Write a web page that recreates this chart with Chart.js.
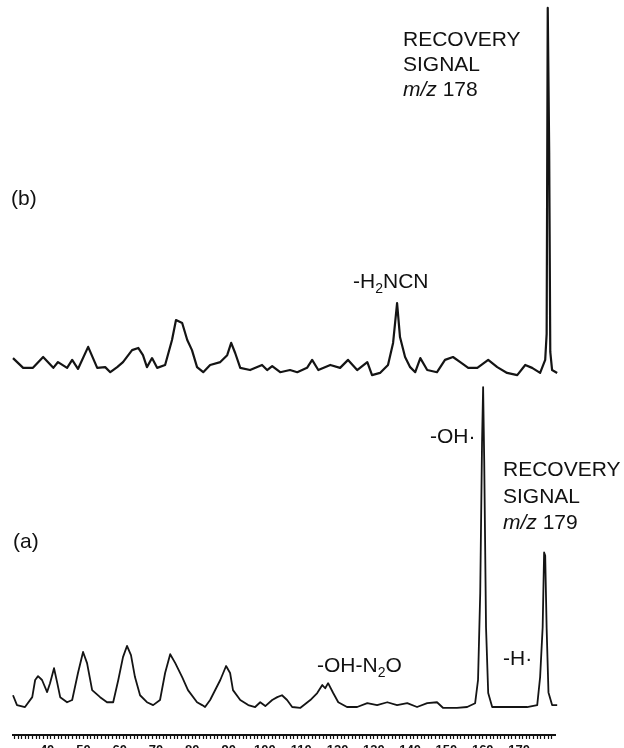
<!DOCTYPE html>
<html>
<head>
<meta charset="utf-8">
<script src="https://cdn.jsdelivr.net/npm/chart.js@4/dist/chart.umd.min.js"></script>
<style>
html, body { margin:0; padding:0; background:#fff; overflow:hidden; }
#wrap { position:relative; width:624px; height:748px; overflow:hidden; }
#spectrum { position:absolute; left:0; top:0; }
.lbl { position:absolute; font-family:"Liberation Sans", Arial, sans-serif; font-size:21px; line-height:24px; color:#111; white-space:nowrap; }
.lbl sub { font-size:14px; line-height:0; vertical-align:-5px; }
</style>
</head>
<body>
<div id="wrap">
<canvas id="spectrum" width="624" height="760"></canvas>
<div class="lbl" style="left:403px;top:26px;line-height:25px">RECOVERY<br>SIGNAL<br><i>m/z</i> 178</div>
<div class="lbl" style="left:11px;top:186px">(b)</div>
<div class="lbl" style="left:353px;top:269px">-H<sub>2</sub>NCN</div>
<div class="lbl" style="left:430px;top:424px">-OH·</div>
<div class="lbl" style="left:503px;top:456px;line-height:26.5px">RECOVERY<br>SIGNAL<br><i>m/z</i> 179</div>
<div class="lbl" style="left:13px;top:529px">(a)</div>
<div class="lbl" style="left:317px;top:653px">-OH-N<sub>2</sub>O</div>
<div class="lbl" style="left:503px;top:646px">-H·</div>
</div>
<script>
// m/z axis labels
var tickLabels = [40, 50, 60, 70, 80, 90, 100, 110, 120, 130, 140, 150, 160, 170];

// trace (b): m/z 178 precursor
var mzB = [30.6,33.4,36.1,38.9,41.7,43.0,45.5,46.9,48.5,51.3,53.8,56.0,57.4,59.3,60.9,63.4,65.1,66.4,67.5,68.9,
  70.3,72.5,74.4,75.5,77.2,78.6,79.9,81.3,83.0,84.9,87.7,89.6,90.7,91.8,93.2,95.9,99.2,100.6,102.0,104.2,
  106.9,108.9,111.6,113.0,114.7,118.0,120.7,122.9,125.4,128.2,129.5,131.7,133.9,135.3,136.4,137.2,138.6,140.0,141.4,142.8,
  144.7,147.4,149.6,151.8,153.8,156.0,158.5,161.5,164.0,166.7,169.5,171.7,173.6,175.8,177.2,177.6,177.9,178.3,178.6,179.1,
  180.5,181.3];
var intB = [3.3,0.6,0.6,3.6,0.6,2.2,0.6,2.8,0.3,6.4,0.6,0.8,-0.6,0.8,2.2,5.5,6.1,4.1,0.8,3.3,
  0.6,1.4,8.3,13.8,13.0,8.3,5.5,0.8,-0.6,1.4,2.2,4.1,7.5,4.7,0.6,0,1.4,0,1.1,-0.6,
  0,-0.6,0.6,2.8,0,1.4,0.6,2.8,0,2.2,-1.4,-0.8,1.4,7.5,18.5,9.1,3.6,0.8,-0.6,3.3,
  0,-0.6,2.8,3.6,2.2,0.6,0.6,2.8,0.8,-0.8,-1.4,1.4,0.6,-0.8,2.8,10,100,60,5,0,
  -0.8,-1.9];

// trace (a): m/z 179 precursor
var mzA = [30.6,31.7,33.9,35.9,36.7,37.5,38.6,40.0,40.8,41.9,42.8,43.6,45.5,46.9,48.5,49.9,51.0,52.4,54.6,56.5,
  58.2,59.6,60.9,62.0,63.1,64.2,65.6,67.5,69.2,71.1,72.5,73.9,75.3,77.2,78.8,81.3,82.7,83.5,84.9,87.7,
  89.3,90.4,91.2,93.2,95.4,97.3,98.7,100.1,102.0,103.4,104.7,106.1,107.5,109.7,112.5,114.4,115.8,116.6,117.4,118.8,
  120.2,122.6,125.4,128.2,130.9,133.7,136.4,139.2,141.9,144.7,147.4,149.1,152.9,155.7,157.9,158.7,159.3,159.8,160.1,160.4,
  160.9,161.5,162.6,164.8,168.4,172.2,175.0,175.8,176.5,176.9,177.2,177.6,178.1,179.1,180.5];
var intA = [3.1,0,-0.6,2.5,7.9,9.1,7.9,4.1,6.9,11.6,6.9,2.5,0.9,1.6,10.1,16.7,13.2,4.7,2.5,0.9,
  0.9,7.9,15.1,18.6,15.7,8.8,3.1,0.9,0,1.6,10.1,16.0,13.2,8.8,4.7,0.9,0,-0.6,1.6,7.9,
  12.3,10.1,4.7,1.6,0,-0.6,0.9,-0.3,1.6,2.5,3.1,1.6,-0.6,-0.9,1.6,3.8,6.3,5.3,6.9,3.8,
  0.9,-0.6,-0.6,0.6,0,0.9,0,0.6,-0.6,0.6,0.9,-0.9,-0.9,-0.6,0.6,7.9,35.2,82.4,100,77.0,
  24.5,3.8,-0.6,-0.6,-0.6,-0.6,0,8.8,24.5,48,47,24,4,0,0];

function pts(xs, ys) {
  return xs.map(function (m, i) { return { x: m, y: ys[i] }; });
}

var ctx = document.getElementById('spectrum').getContext('2d');
var chart = new Chart(ctx, {
  type: 'line',
  data: {
    datasets: [
      { label: '(b)', data: pts(mzB, intB), yAxisID: 'yB', borderColor: '#141414', borderWidth: 2.2,
        pointRadius: 0, tension: 0, clip: false, borderJoinStyle: 'round' },
      { label: '(a)', data: pts(mzA, intA), yAxisID: 'yA', borderColor: '#141414', borderWidth: 1.8,
        pointRadius: 0, tension: 0, clip: false, borderJoinStyle: 'round' }
    ]
  },
  options: {
    responsive: false,
    animation: false,
    devicePixelRatio: 1,
    layout: { padding: { left: 13, right: 69, top: 0, bottom: 0 } },
    plugins: { legend: { display: false }, tooltip: { enabled: false } },
    scales: {
      x: {
        type: 'linear', min: 30.6, max: 179.9,
        afterBuildTicks: function (axis) {
          var t = [];
          for (var v = 31; v <= 179; v++) t.push({ value: v });
          axis.ticks = t;
        },
        afterFit: function (axis) { axis.height = 25; },
        grid: { drawOnChartArea: false, drawTicks: true, tickLength: 4, tickColor: '#111', tickWidth: 1.2 },
        border: { display: true, color: '#111', width: 2 },
        ticks: {
          autoSkip: false, maxRotation: 0, minRotation: 0, padding: 4, color: '#111',
          font: { family: 'Liberation Sans', size: 13, weight: 'bold' },
          callback: function (v) { return tickLabels.indexOf(v) >= 0 ? String(v) : ''; }
        }
      },
      yA: { display: false, min: -9.4, max: 221.7 },
      yB: { display: false, min: -100.8, max: 102.2 }
    }
  }
});
</script>
</body>
</html>
